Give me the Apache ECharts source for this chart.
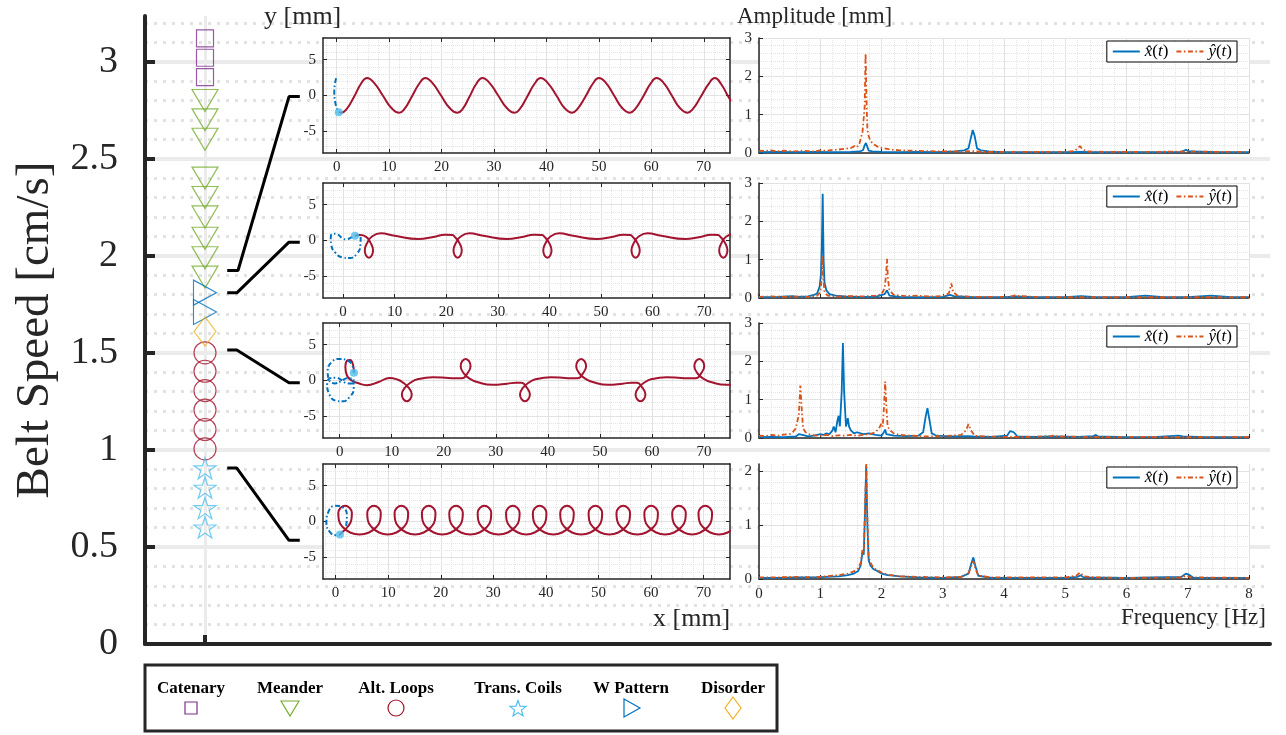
<!DOCTYPE html>
<html><head><meta charset="utf-8">
<script src="https://cdn.jsdelivr.net/npm/echarts@6/dist/echarts.min.js"></script>
<style>html,body{margin:0;padding:0;background:#fff}#c{width:1286px;height:735px}</style>
</head><body><div id="c"></div>
<script>
// ---------------- DATA ----------------
const patternNames = ['Catenary', 'Meander', 'Alt. Loops', 'Trans. Coils', 'W Pattern', 'Disorder'];
const speedCatenary = [3.12, 3.02, 2.92];
const speedMeander = [2.8, 2.7, 2.6, 2.4, 2.3, 2.2, 2.09, 1.99, 1.89];
const speedAltLoops = [1.50, 1.405, 1.305, 1.205, 1.105, 1.005];
const speedTransCoils = [0.905, 0.805, 0.70, 0.60];
const speedWPattern = [1.81, 1.71];
const speedDisorder = [1.61];
const speedTicks = [0, 0.5, 1, 1.5, 2, 2.5, 3];

// connectors (main-axis units) from the speed column to each inset
const connMeander = [[1.37, 1.924], [1.55, 1.924], [2.4, 2.82], [2.58, 2.82]];
const connWPattern = [[1.37, 1.809], [1.53, 1.809], [2.4, 2.07], [2.58, 2.07]];
const connAltLoops = [[1.37, 1.514], [1.53, 1.514], [2.4, 1.346], [2.58, 1.346]];
const connCoils = [[1.37, 0.906], [1.53, 0.906], [2.4, 0.534], [2.58, 0.534]];

// trajectories x [mm], y [mm]
const insetXMin = [-2.6, -3.9, -3.2, -2.4];
const insetXMax = 75;
const insetYMin = -8, insetYMax = 8;
const insetXTicks = [0, 10, 20, 30, 40, 50, 60, 70];
const insetYTicks = [-5, 0, 5];

const trajMeanderPre = [[-0.1, 2.4], [-0.35, 1.5], [-0.45, 0.4], [-0.3, -0.8], [0.0, -1.7], [0.4, -2.34]];
const trajMeander = [[0.4, -2.34], [0.9, -2.4], [1.9, -1.9], [3.3, -0.2], [4.7, 1.7], [5.8, 2.45], [7.1, 1.8], [8.8, 0.0], [10.4, -1.7],
  [11.9, -2.4], [12.9, -1.9], [14.3, -0.2], [15.8, 1.7], [16.9, 2.45], [18.2, 1.8], [19.9, 0.0], [21.5, -1.7],
  [23.0, -2.4], [24.0, -1.9], [25.3, -0.2], [26.7, 1.7], [27.8, 2.45], [29.1, 1.8], [30.8, 0.0], [32.4, -1.7],
  [33.9, -2.4], [34.9, -1.9], [36.3, -0.2], [37.8, 1.7], [38.9, 2.45], [40.2, 1.8], [41.9, 0.0], [43.4, -1.7],
  [44.9, -2.4], [45.9, -1.9], [47.4, -0.2], [48.9, 1.7], [50.0, 2.45], [51.3, 1.8], [52.9, 0.0], [54.4, -1.7],
  [55.9, -2.4], [56.9, -1.9], [58.4, -0.2], [59.9, 1.7], [61.0, 2.45], [62.3, 1.8], [63.9, 0.0], [65.4, -1.7],
  [66.9, -2.4], [67.9, -1.9], [69.4, -0.2], [71.0, 1.7], [72.1, 2.45], [73.3, 1.6], [74.8, -0.3], [76.3, -1.8]];

const trajWPre = [[3.4, 0.5], [3.35, -0.7], [2.7, -1.8], [1.3, -2.45], [-0.2, -2.35], [-1.5, -1.7], [-2.3, -0.6], [-2.4, 0.4],
  [-2.0, 0.95], [-1.1, 0.85], [-0.2, 0.35], [0.6, 0.15], [1.5, 0.4], [2.3, 0.65]];
const trajW = [[2.3, 0.65], [3.3, 0.75],
  [4.4, 0.55], [5.3, -0.3], [5.8, -1.4], [5.0, -2.4], [4.2, -1.4], [4.7, -0.3], [5.6, 0.55], [7.3, 1.0], [10.0, 0.65], [14.6, 0.2], [17.5, 0.5], [19.8, 0.8], [21.2, 0.75],
  [21.6, 0.55], [22.5, -0.3], [23.0, -1.4], [22.2, -2.4], [21.4, -1.4], [21.9, -0.3], [22.8, 0.55], [24.5, 1.0], [27.2, 0.65], [31.8, 0.2], [34.7, 0.5], [37.0, 0.8], [38.6, 0.75],
  [39.0, 0.55], [39.9, -0.3], [40.4, -1.4], [39.6, -2.4], [38.8, -1.4], [39.3, -0.3], [40.2, 0.55], [41.9, 1.0], [44.6, 0.65], [49.2, 0.2], [52.1, 0.5], [54.3, 0.8], [55.7, 0.75],
  [56.1, 0.55], [57.0, -0.3], [57.5, -1.4], [56.7, -2.4], [55.9, -1.4], [56.4, -0.3], [57.3, 0.55], [59.0, 1.0], [61.7, 0.65], [66.3, 0.2], [69.2, 0.5], [71.4, 0.8], [72.7, 0.75],
  [73.1, 0.55], [74.0, -0.3], [74.5, -1.4], [73.7, -2.4], [72.9, -1.4], [73.4, -0.3], [74.3, 0.55], [76.0, 1.0]];

const trajAltPre = [[2.5, -0.4], [1.5, -0.4], [0.4, 0.05], [-0.8, 0.4], [-1.9, 0.3], [-2.4, -0.5], [-2.0, -1.9], [-0.8, -2.8], [0.6, -2.9],
  [1.9, -2.3], [2.7, -1.1], [2.6, 0.2], [1.4, 0.3], [0.3, -0.1], [-0.9, -0.4], [-2.1, 0.2], [-2.3, 1.3], [-1.5, 2.6], [0.0, 3.0],
  [1.5, 2.8], [2.5, 2.0], [2.75, 1.07]];
const trajAlt = [[2.75, 1.07], [2.6, 2.1], [2.0, 2.85], [1.4, 2.75], [1.1, 1.8], [1.4, 0.7], [2.3, 0.0], [3.5, -0.35], [5.2, -0.65], [7.5, -0.2], [9.6, 0.35], [11.2, 0.1],
  [12.2, -0.3], [13.25, -1.0], [13.85, -1.9], [12.9, -2.9], [11.95, -1.9], [12.55, -1.0], [13.6, -0.3], [15.1, 0.2], [17.9, 0.45], [20.9, 0.35], [22.5, 0.3],
  [23.5, 0.3], [24.55, 1.0], [25.15, 2.0], [24.2, 3.0], [23.25, 2.0], [23.85, 1.0], [24.9, 0.3], [26.4, -0.2], [29.4, -0.6], [32.2, -0.45], [33.9, -0.3],
  [34.9, -0.3], [35.95, -1.0], [36.55, -1.9], [35.6, -2.9], [34.65, -1.9], [35.25, -1.0], [36.3, -0.3], [37.8, 0.2], [40.6, 0.45], [43.3, 0.35], [44.7, 0.3],
  [45.7, 0.3], [46.75, 1.0], [47.35, 2.0], [46.4, 3.0], [45.45, 2.0], [46.05, 1.0], [47.1, 0.3], [48.6, -0.2], [51.6, -0.6], [54.4, -0.45], [56.1, -0.3],
  [57.1, -0.3], [58.15, -1.0], [58.75, -1.9], [57.8, -2.9], [56.85, -1.9], [57.45, -1.0], [58.5, -0.3], [60.0, 0.2], [62.8, 0.45], [65.6, 0.35], [67.4, 0.3],
  [68.4, 0.3], [69.45, 1.0], [70.05, 2.0], [69.1, 3.0], [68.15, 2.0], [68.75, 1.0], [69.8, 0.3], [71.3, -0.2], [74.3, -0.6], [77.0, -0.45]];

const trajCoilPre = [[2.0, -0.6], [2.15, 0.8], [1.4, 1.95], [-0.1, 2.2], [-1.4, 1.3], [-1.75, -0.2], [-1.1, -1.45], [0.0, -1.9], [0.82, -1.8]];
const trajCoil = [[0.82, -1.8],
  [1.2, -1.53], [2.21, -0.8], [2.98, 0.2], [3.09, 1.2], [2.61, 1.93], [1.8, 2.2], [0.99, 1.93], [0.51, 1.2], [0.62, 0.2], [1.39, -0.8], [2.75, -1.53], [4.55, -1.8],
  [6.35, -1.53], [7.71, -0.8], [8.48, 0.2], [8.59, 1.2], [8.11, 1.93], [7.3, 2.2], [6.49, 1.93], [6.01, 1.2], [6.12, 0.2], [6.89, -0.8], [8.25, -1.53], [9.9, -1.8],
  [11.55, -1.53], [12.91, -0.8], [13.68, 0.2], [13.79, 1.2], [13.31, 1.93], [12.5, 2.2], [11.69, 1.93], [11.21, 1.2], [11.32, 0.2], [12.09, -0.8], [13.45, -1.53], [15.1, -1.8],
  [16.75, -1.53], [18.11, -0.8], [18.88, 0.2], [18.99, 1.2], [18.51, 1.93], [17.7, 2.2], [16.89, 1.93], [16.41, 1.2], [16.52, 0.2], [17.29, -0.8], [18.65, -1.53], [20.3, -1.8],
  [21.95, -1.53], [23.31, -0.8], [24.08, 0.2], [24.19, 1.2], [23.71, 1.93], [22.9, 2.2], [22.09, 1.93], [21.61, 1.2], [21.72, 0.2], [22.49, -0.8], [23.85, -1.53], [25.6, -1.8],
  [27.35, -1.53], [28.71, -0.8], [29.48, 0.2], [29.59, 1.2], [29.11, 1.93], [28.3, 2.2], [27.49, 1.93], [27.01, 1.2], [27.12, 0.2], [27.89, -0.8], [29.25, -1.53], [31.0, -1.8],
  [32.75, -1.53], [34.11, -0.8], [34.88, 0.2], [34.99, 1.2], [34.51, 1.93], [33.7, 2.2], [32.89, 1.93], [32.41, 1.2], [32.52, 0.2], [33.29, -0.8], [34.65, -1.53], [36.25, -1.8],
  [37.85, -1.53], [39.21, -0.8], [39.98, 0.2], [40.09, 1.2], [39.61, 1.93], [38.8, 2.2], [37.99, 1.93], [37.51, 1.2], [37.62, 0.2], [38.39, -0.8], [39.75, -1.53], [41.4, -1.8],
  [43.05, -1.53], [44.41, -0.8], [45.18, 0.2], [45.29, 1.2], [44.81, 1.93], [44.0, 2.2], [43.19, 1.93], [42.71, 1.2], [42.82, 0.2], [43.59, -0.8], [44.95, -1.53], [46.7, -1.8],
  [48.45, -1.53], [49.81, -0.8], [50.58, 0.2], [50.69, 1.2], [50.21, 1.93], [49.4, 2.2], [48.59, 1.93], [48.11, 1.2], [48.22, 0.2], [48.99, -0.8], [50.35, -1.53], [52.05, -1.8],
  [53.75, -1.53], [55.11, -0.8], [55.88, 0.2], [55.99, 1.2], [55.51, 1.93], [54.7, 2.2], [53.89, 1.93], [53.41, 1.2], [53.52, 0.2], [54.29, -0.8], [55.65, -1.53], [57.35, -1.8],
  [59.05, -1.53], [60.41, -0.8], [61.18, 0.2], [61.29, 1.2], [60.81, 1.93], [60.0, 2.2], [59.19, 1.93], [58.71, 1.2], [58.82, 0.2], [59.59, -0.8], [60.95, -1.53], [62.65, -1.8],
  [64.35, -1.53], [65.71, -0.8], [66.48, 0.2], [66.59, 1.2], [66.11, 1.93], [65.3, 2.2], [64.49, 1.93], [64.01, 1.2], [64.12, 0.2], [64.89, -0.8], [66.25, -1.53], [67.8, -1.8],
  [69.35, -1.53], [70.71, -0.8], [71.48, 0.2], [71.59, 1.2], [71.11, 1.93], [70.3, 2.2], [69.49, 1.93], [69.01, 1.2], [69.12, 0.2], [69.89, -0.8], [71.25, -1.53], [72.9, -1.8],
  [74.55, -1.53], [75.91, -0.8], [76.68, 0.2], [76.79, 1.2], [76.31, 1.93], [75.5, 2.2]];

// spectra: [frequency Hz, amplitude mm]
const freqTicks = [0, 1, 2, 3, 4, 5, 6, 7, 8];
const ampMax = [3, 3, 3, 2.13];
const ampTicks = [[0, 1, 2, 3], [0, 1, 2, 3], [0, 1, 2, 3], [0, 1, 2]];

const specMeanderX = [[0, 0.02], [0.3, 0.03], [0.6, 0.02], [0.9, 0.03], [1.2, 0.02], [1.5, 0.03], [1.65, 0.04], [1.70, 0.08], [1.725, 0.2], [1.745, 0.26], [1.765, 0.18], [1.79, 0.06], [1.85, 0.04], [2.0, 0.03], [2.3, 0.02], [2.6, 0.03], [2.9, 0.02], [3.2, 0.04], [3.35, 0.07], [3.42, 0.12], [3.46, 0.4], [3.49, 0.6], [3.52, 0.45], [3.56, 0.12], [3.62, 0.07], [3.75, 0.04], [4.0, 0.02], [4.5, 0.02], [5.0, 0.02], [5.24, 0.03], [5.5, 0.02], [6.0, 0.02], [6.5, 0.02], [6.9, 0.03], [6.97, 0.08], [7.03, 0.04], [7.5, 0.02], [8, 0.02]];
const specMeanderY = [[0, 0.06], [0.1, 0.05], [0.2, 0.07], [0.3, 0.04], [0.4, 0.06], [0.5, 0.05], [0.6, 0.04], [0.7, 0.06], [0.8, 0.05], [0.9, 0.04], [1.0, 0.07], [1.1, 0.06], [1.2, 0.08], [1.3, 0.09], [1.4, 0.11], [1.5, 0.13], [1.56, 0.18], [1.6, 0.15], [1.64, 0.25], [1.67, 0.3], [1.69, 0.55], [1.71, 0.5], [1.725, 1.2], [1.74, 2.6], [1.755, 1.4], [1.77, 0.6], [1.79, 0.45], [1.81, 0.35], [1.84, 0.28], [1.88, 0.22], [1.92, 0.18], [1.97, 0.14], [2.05, 0.12], [2.15, 0.09], [2.3, 0.07], [2.5, 0.06], [2.7, 0.05], [3.0, 0.04], [3.3, 0.04], [3.5, 0.05], [3.7, 0.03], [4.0, 0.03], [4.5, 0.03], [5.0, 0.03], [5.15, 0.05], [5.2, 0.12], [5.24, 0.18], [5.28, 0.1], [5.35, 0.04], [5.6, 0.03], [6.0, 0.03], [6.5, 0.03], [7.0, 0.04], [7.5, 0.03], [8, 0.03]];

const specWX = [[0, 0.02], [0.3, 0.03], [0.55, 0.05], [0.6, 0.03], [0.8, 0.04], [0.9, 0.08], [0.95, 0.12], [0.99, 0.3], [1.01, 0.6], [1.025, 1.3], [1.04, 2.72], [1.055, 1.0], [1.07, 0.4], [1.1, 0.2], [1.15, 0.1], [1.25, 0.06], [1.4, 0.04], [1.6, 0.03], [1.9, 0.03], [2.05, 0.1], [2.09, 0.2], [2.13, 0.06], [2.3, 0.03], [2.6, 0.02], [3.0, 0.03], [3.12, 0.08], [3.15, 0.12], [3.18, 0.05], [3.5, 0.02], [4.0, 0.02], [4.2, 0.04], [4.5, 0.02], [5.0, 0.02], [5.26, 0.05], [5.5, 0.02], [6.0, 0.02], [6.31, 0.06], [6.6, 0.02], [7.0, 0.02], [7.38, 0.06], [7.7, 0.02], [8, 0.02]];
const specWY = [[0, 0.03], [0.2, 0.04], [0.4, 0.03], [0.6, 0.04], [0.8, 0.03], [0.95, 0.06], [1.0, 0.15], [1.02, 0.45], [1.035, 1.1], [1.05, 0.5], [1.07, 0.15], [1.12, 0.06], [1.3, 0.04], [1.5, 0.05], [1.7, 0.04], [1.9, 0.06], [2.0, 0.1], [2.05, 0.25], [2.075, 0.6], [2.09, 1.02], [2.105, 0.5], [2.13, 0.2], [2.2, 0.08], [2.4, 0.05], [2.6, 0.06], [2.8, 0.04], [3.0, 0.05], [3.1, 0.12], [3.14, 0.38], [3.17, 0.15], [3.25, 0.05], [3.5, 0.03], [3.8, 0.03], [4.1, 0.03], [4.18, 0.07], [4.21, 0.1], [4.24, 0.05], [4.5, 0.03], [5.0, 0.02], [5.5, 0.02], [6.0, 0.02], [6.5, 0.02], [7.0, 0.02], [7.5, 0.02], [8, 0.02]];

const specAltX = [[0, 0.02], [0.2, 0.03], [0.4, 0.02], [0.6, 0.04], [0.65, 0.1], [0.68, 0.15], [0.71, 0.08], [0.8, 0.04], [0.9, 0.06], [1.0, 0.1], [1.05, 0.08], [1.1, 0.12], [1.15, 0.1], [1.2, 0.2], [1.22, 0.3], [1.25, 0.15], [1.28, 0.45], [1.3, 0.58], [1.32, 0.3], [1.35, 1.2], [1.37, 2.48], [1.39, 1.2], [1.42, 0.3], [1.45, 0.52], [1.47, 0.3], [1.5, 0.2], [1.52, 0.25], [1.55, 0.12], [1.6, 0.15], [1.7, 0.1], [1.8, 0.12], [1.9, 0.08], [2.0, 0.06], [2.04, 0.15], [2.06, 0.22], [2.08, 0.1], [2.2, 0.06], [2.4, 0.05], [2.6, 0.06], [2.68, 0.15], [2.72, 0.55], [2.75, 0.78], [2.78, 0.5], [2.82, 0.12], [2.9, 0.06], [3.1, 0.04], [3.4, 0.05], [3.43, 0.08], [3.5, 0.04], [3.8, 0.03], [4.05, 0.06], [4.1, 0.18], [4.13, 0.22], [4.16, 0.15], [4.22, 0.04], [4.5, 0.03], [4.81, 0.04], [5.2, 0.03], [5.46, 0.05], [5.5, 0.08], [5.54, 0.04], [6.0, 0.02], [6.5, 0.03], [6.85, 0.06], [6.88, 0.09], [6.92, 0.04], [7.3, 0.02], [8, 0.02]];
const specAltY = [[0, 0.06], [0.1, 0.05], [0.2, 0.08], [0.3, 0.06], [0.4, 0.09], [0.5, 0.1], [0.55, 0.15], [0.6, 0.25], [0.63, 0.2], [0.65, 0.6], [0.675, 1.37], [0.7, 0.7], [0.72, 0.25], [0.76, 0.15], [0.82, 0.1], [0.9, 0.07], [1.0, 0.06], [1.1, 0.08], [1.2, 0.05], [1.3, 0.07], [1.4, 0.06], [1.5, 0.08], [1.6, 0.06], [1.7, 0.08], [1.8, 0.1], [1.9, 0.15], [1.96, 0.25], [2.0, 0.38], [2.02, 0.3], [2.04, 0.8], [2.06, 1.47], [2.08, 0.8], [2.1, 0.3], [2.14, 0.2], [2.2, 0.12], [2.3, 0.08], [2.5, 0.06], [2.7, 0.04], [3.0, 0.05], [3.3, 0.08], [3.38, 0.2], [3.42, 0.36], [3.46, 0.2], [3.52, 0.06], [3.7, 0.04], [4.0, 0.03], [4.4, 0.03], [4.77, 0.05], [4.81, 0.07], [4.86, 0.04], [5.3, 0.03], [5.8, 0.02], [6.2, 0.03], [6.6, 0.02], [7.0, 0.02], [7.55, 0.03], [8, 0.02]];

const specCoilX = [[0, 0.02], [0.3, 0.02], [0.6, 0.03], [0.9, 0.03], [1.1, 0.04], [1.3, 0.05], [1.45, 0.07], [1.55, 0.1], [1.62, 0.15], [1.66, 0.25], [1.69, 0.5], [1.71, 0.45], [1.73, 1.2], [1.75, 2.1], [1.77, 1.0], [1.79, 0.35], [1.82, 0.25], [1.87, 0.18], [1.93, 0.15], [2.0, 0.1], [2.1, 0.07], [2.3, 0.05], [2.6, 0.03], [3.0, 0.02], [3.3, 0.04], [3.42, 0.1], [3.47, 0.3], [3.5, 0.4], [3.53, 0.25], [3.58, 0.06], [3.8, 0.02], [4.5, 0.02], [5.0, 0.02], [5.2, 0.04], [5.25, 0.07], [5.3, 0.03], [6.0, 0.02], [6.9, 0.04], [6.97, 0.1], [7.02, 0.08], [7.1, 0.02], [8, 0.02]];
const specCoilY = [[0, 0.03], [0.3, 0.03], [0.6, 0.04], [0.9, 0.03], [1.1, 0.05], [1.3, 0.07], [1.45, 0.1], [1.55, 0.14], [1.62, 0.2], [1.66, 0.3], [1.69, 0.55], [1.71, 0.5], [1.73, 1.3], [1.752, 2.13], [1.77, 1.1], [1.79, 0.4], [1.82, 0.3], [1.87, 0.2], [1.93, 0.17], [2.0, 0.12], [2.1, 0.08], [2.3, 0.05], [2.6, 0.04], [3.0, 0.03], [3.3, 0.04], [3.42, 0.1], [3.47, 0.25], [3.5, 0.33], [3.53, 0.2], [3.58, 0.06], [3.8, 0.03], [4.5, 0.03], [5.0, 0.03], [5.18, 0.06], [5.24, 0.12], [5.3, 0.05], [5.5, 0.03], [6.0, 0.02], [6.9, 0.03], [6.98, 0.06], [7.05, 0.03], [8, 0.02]];

// ---------------- CHART ----------------
const FONT = 'Liberation Serif';
const AX = '#262626';
const C = { purple: '#7E2F8E', green: '#77AC30', red: '#A2142F', cyan: '#4DBEEE', blue: '#0072BD', orange: '#EDB120', redOr: '#D95319' };
const STAR = 'path://M50,0L61.2,34.5L97.6,34.5L68.2,55.9L79.4,90.5L50,69.1L20.6,90.5L31.8,55.9L2.4,34.5L38.8,34.5Z';
const NX = 'x\u0302(t)', NY = 'y\u0302(t)';

const panelTops = [38, 183, 323, 464];
const grids = [], xAxes = [], yAxes = [], series = [];

// main axes
grids.push({ left: 145, top: 16, right: 16, bottom: 91, show: false, z: 0, outerBoundsMode: 'none' });
xAxes.push({ type: 'value', gridIndex: 0, min: 0, max: 18.75, position: 'bottom', z: 0,
  axisLine: { show: true, onZero: false, lineStyle: { color: AX, width: 4 } },
  axisTick: { show: true, inside: true, length: 9, customValues: [1], lineStyle: { color: AX, width: 4 } },
  axisLabel: { show: false }, splitLine: { show: true, lineStyle: { color: '#ebebeb', width: 3 } } });
yAxes.push({ type: 'value', gridIndex: 0, min: 0, max: 3.235, interval: 0.5, z: 0,
  name: 'Belt Speed [cm/s]', nameLocation: 'middle', nameGap: 83,
  nameTextStyle: { fontFamily: FONT, fontSize: 47, color: AX },
  axisLine: { show: true, onZero: false, lineStyle: { color: AX, width: 4 } },
  axisTick: { show: true, inside: true, length: 10, customValues: speedTicks, lineStyle: { color: AX, width: 4 } },
  axisLabel: { customValues: speedTicks, fontFamily: FONT, fontSize: 38, color: AX, margin: 27 },
  splitLine: { show: true, lineStyle: { color: '#ebebeb', width: 4 } },
  minorTick: { show: false, splitNumber: 5 },
  minorSplitLine: { show: true, lineStyle: { color: '#e2e2e2', width: 3, type: [3, 6] } } });

function markerSeries(name, vals, symbol, size, rot, color) {
  series.push({ type: 'scatter', name: name, xAxisIndex: 0, yAxisIndex: 0, data: vals.map(v => [1, v]),
    symbol: symbol, symbolSize: size, symbolRotate: rot,
    itemStyle: { color: 'rgba(0,0,0,0)', borderColor: color, borderWidth: 1.2 }, z: 3, silent: true });
}
markerSeries(patternNames[0], speedCatenary, 'rect', 17, 0, C.purple);
markerSeries(patternNames[1], speedMeander, 'triangle', [26, 22], 180, C.green);
markerSeries(patternNames[2], speedAltLoops, 'circle', 22, 0, C.red);
markerSeries(patternNames[3], speedTransCoils, STAR, [22, 21], 0, C.cyan);
markerSeries(patternNames[4], speedWPattern, 'triangle', [25, 23], -90, C.blue);
markerSeries(patternNames[5], speedDisorder, 'diamond', [22, 29], 0, C.orange);

[connMeander, connWPattern, connAltLoops, connCoils].forEach(d => {
  series.push({ type: 'line', xAxisIndex: 0, yAxisIndex: 0, data: d, symbol: 'none', silent: true,
    lineStyle: { color: '#000', width: 3 }, z: 3 });
});

// insets
const frameLine = { show: true, onZero: false, lineStyle: { color: AX, width: 1.5 } };
const trajPre = [trajMeanderPre, trajWPre, trajAltPre, trajCoilPre];
const trajMain = [trajMeander, trajW, trajAlt, trajCoil];
for (let i = 0; i < 4; i++) {
  const gi = grids.length;
  grids.push({ left: 323, top: panelTops[i], width: 407, height: 115, show: true, z: 1, outerBoundsMode: 'none',
    backgroundColor: '#fff', borderWidth: 0 });
  const xb = xAxes.length;
  const common = { type: 'value', gridIndex: gi, z: 1 };
  xAxes.push(Object.assign({}, common, { min: insetXMin[i], max: insetXMax, splitNumber: 8, position: 'bottom',
    axisLine: frameLine,
    axisTick: { show: true, inside: true, length: 4, customValues: insetXTicks, lineStyle: { color: AX, width: 1 } },
    axisLabel: { show: true, customValues: insetXTicks, fontFamily: FONT, fontSize: 15, color: AX, margin: 7 },
    splitLine: { show: true, lineStyle: { color: '#e2e2e2', width: 1 } },
    minorTick: { show: false, splitNumber: 5 },
    minorSplitLine: { show: true, lineStyle: { color: '#e4e4e4', width: 1, type: 'dotted' } } }));
  xAxes.push(Object.assign({}, common, { min: insetXMin[i], max: insetXMax, splitNumber: 8, position: 'top',
    axisLine: frameLine,
    axisTick: { show: true, inside: true, length: 4, customValues: insetXTicks, lineStyle: { color: AX, width: 1 } },
    axisLabel: { show: false }, splitLine: { show: false } }));
  const yl = yAxes.length;
  yAxes.push(Object.assign({}, common, { min: insetYMin, max: insetYMax, splitNumber: 3, position: 'left',
    axisLine: frameLine,
    axisTick: { show: true, inside: true, length: 4, customValues: insetYTicks, lineStyle: { color: AX, width: 1 } },
    axisLabel: { show: true, customValues: insetYTicks, fontFamily: FONT, fontSize: 15, color: AX, margin: 7 },
    splitLine: { show: true, lineStyle: { color: '#e2e2e2', width: 1 } },
    minorTick: { show: false, splitNumber: 5 },
    minorSplitLine: { show: true, lineStyle: { color: '#e4e4e4', width: 1, type: 'dotted' } } }));
  yAxes.push(Object.assign({}, common, { min: insetYMin, max: insetYMax, splitNumber: 3, position: 'right',
    axisLine: frameLine,
    axisTick: { show: true, inside: true, length: 4, customValues: insetYTicks, lineStyle: { color: AX, width: 1 } },
    axisLabel: { show: false }, splitLine: { show: false } }));
  series.push({ type: 'line', xAxisIndex: xb, yAxisIndex: yl, data: trajMain[i], symbol: 'none', smooth: 0.5, clip: true,
    lineStyle: { color: C.red, width: 2 }, z: 3, silent: true });
  series.push({ type: 'line', xAxisIndex: xb, yAxisIndex: yl, data: trajPre[i], symbol: 'none', smooth: 0.5, clip: true,
    lineStyle: { color: C.blue, width: 2, type: [5, 2.5, 1.5, 2.5] }, z: 4, silent: true });
  series.push({ type: 'scatter', xAxisIndex: xb, yAxisIndex: yl, data: [trajPre[i][trajPre[i].length - 1]],
    symbol: 'circle', symbolSize: 8, itemStyle: { color: C.cyan }, z: 5, silent: true });
}

// spectra
const specX = [specMeanderX, specWX, specAltX, specCoilX];
const specY = [specMeanderY, specWY, specAltY, specCoilY];
const legends = [];
for (let i = 0; i < 4; i++) {
  const gi = grids.length;
  grids.push({ left: 759, top: panelTops[i], width: 490, height: 115, show: true, z: 1, outerBoundsMode: 'none',
    backgroundColor: '#fff', borderWidth: 0 });
  const xi = xAxes.length;
  xAxes.push({ type: 'value', gridIndex: gi, min: 0, max: 8, interval: 1, position: 'bottom', z: 1,
    axisLine: { show: true, onZero: false, lineStyle: { color: AX, width: 1.5 } },
    axisTick: { show: true, inside: true, length: 4, lineStyle: { color: AX, width: 1 } },
    axisLabel: { show: i === 3, customValues: freqTicks, fontFamily: FONT, fontSize: 15, color: AX, margin: 8 },
    splitLine: { show: true, lineStyle: { color: '#e2e2e2', width: 1 } },
    minorTick: { show: false, splitNumber: 5 },
    minorSplitLine: { show: true, lineStyle: { color: '#e4e4e4', width: 1, type: 'dotted' } } });
  const yi = yAxes.length;
  yAxes.push({ type: 'value', gridIndex: gi, min: 0, max: ampMax[i], interval: 1, position: 'left', z: 1,
    axisLine: { show: true, onZero: false, lineStyle: { color: AX, width: 1.5 } },
    axisTick: { show: true, inside: true, length: 4, customValues: ampTicks[i], lineStyle: { color: AX, width: 1 } },
    axisLabel: { show: true, customValues: ampTicks[i], fontFamily: FONT, fontSize: 15, color: AX, margin: 7 },
    splitLine: { show: true, lineStyle: { color: '#e2e2e2', width: 1 } },
    minorTick: { show: false, splitNumber: 5 },
    minorSplitLine: { show: true, lineStyle: { color: '#e4e4e4', width: 1, type: 'dotted' } } });
  series.push({ type: 'line', name: NX, xAxisIndex: xi, yAxisIndex: yi, data: specX[i], symbol: 'none', clip: true,
    lineStyle: { color: C.blue, width: 1.8 }, itemStyle: { color: C.blue }, z: 3, silent: true });
  series.push({ type: 'line', name: NY, xAxisIndex: xi, yAxisIndex: yi, data: specY[i], symbol: 'none', clip: true,
    lineStyle: { color: C.redOr, width: 1.8, type: [5, 2.5, 1.5, 2.5] }, itemStyle: { color: C.redOr }, z: 4, silent: true });
  legends.push({ show: true, data: [NX, NY], right: 49, top: panelTops[i] + 3, orient: 'horizontal',
    backgroundColor: '#fff', borderColor: '#000', borderWidth: 1, padding: [2, 5, 2, 5],
    itemWidth: 27, itemHeight: 12, itemGap: 7, selectedMode: false,
    itemStyle: { opacity: 0 },
    formatter: n => (n === NX ? '{i|x\u0302}{n|(}{i|t}{n|)}' : '{i|y\u0302}{n|(}{i|t}{n|)}'),
    textStyle: { fontFamily: FONT, fontSize: 17, color: '#000', padding: [0, 0, 0, 0],
      rich: { i: { fontFamily: FONT, fontSize: 17, fontStyle: 'italic', color: '#000' }, n: { fontFamily: FONT, fontSize: 17, color: '#000' } } } });
}

// bottom pattern legend (annotation box)
const legCx = [191, 290, 396, 518, 631, 733];
const g = [{ type: 'rect', shape: { x: 145, y: 665, width: 632, height: 66 }, style: { fill: '#fff', stroke: AX, lineWidth: 3 }, z: 10 }];
patternNames.forEach((n, k) => {
  g.push({ type: 'text', x: legCx[k], y: 689, z: 11,
    style: { text: n, fontFamily: FONT, fontSize: 17, fontWeight: 'bold', fill: '#000', align: 'center', verticalAlign: 'middle' } });
});
const my = 708, ls = { fill: 'none', lineWidth: 1.2 };
g.push({ type: 'rect', z: 11, shape: { x: legCx[0] - 6, y: my - 6, width: 12, height: 12 }, style: Object.assign({ stroke: C.purple }, ls) });
g.push({ type: 'polygon', z: 11, shape: { points: [[legCx[1] - 9, my - 7], [legCx[1] + 9, my - 7], [legCx[1], my + 8]] }, style: Object.assign({ stroke: C.green }, ls) });
g.push({ type: 'circle', z: 11, shape: { cx: legCx[2], cy: my, r: 8 }, style: Object.assign({ stroke: C.red }, ls) });
const starPts = [];
for (let k = 0; k < 10; k++) {
  const r = k % 2 === 0 ? 8.5 : 3.6, a = -Math.PI / 2 + k * Math.PI / 5;
  starPts.push([legCx[3] + r * Math.cos(a), my + 1 + r * Math.sin(a)]);
}
g.push({ type: 'polygon', z: 11, shape: { points: starPts }, style: Object.assign({ stroke: C.cyan }, ls) });
g.push({ type: 'polygon', z: 11, shape: { points: [[legCx[4] - 7, my - 9], [legCx[4] + 9, my], [legCx[4] - 7, my + 9]] }, style: Object.assign({ stroke: C.blue }, ls) });
g.push({ type: 'polygon', z: 11, shape: { points: [[legCx[5], my - 11], [legCx[5] + 8, my], [legCx[5], my + 11], [legCx[5] - 8, my]] }, style: Object.assign({ stroke: C.orange }, ls) });

const titleStyle = { fontFamily: FONT, fontSize: 23, fontWeight: 'normal', color: AX, lineHeight: 26 };
const titleStyleBig = Object.assign({}, titleStyle, { fontSize: 26, lineHeight: 28 });
const option = {
  animation: false,
  backgroundColor: '#fff',
  title: [
    { text: 'y [mm]', left: 264, top: 3, padding: 0, textStyle: titleStyleBig },
    { text: 'Amplitude [mm]', left: 737, top: 4, padding: 0, textStyle: titleStyle },
    { text: 'x [mm]', left: 653, top: 605, padding: 0, textStyle: titleStyleBig },
    { text: 'Frequency [Hz]', left: 1121, top: 605, padding: 0, textStyle: titleStyle }
  ],
  grid: grids, xAxis: xAxes, yAxis: yAxes, series: series, legend: legends, graphic: g
};
const chart = echarts.init(document.getElementById('c'));
chart.setOption(option);
</script>
</body></html>
